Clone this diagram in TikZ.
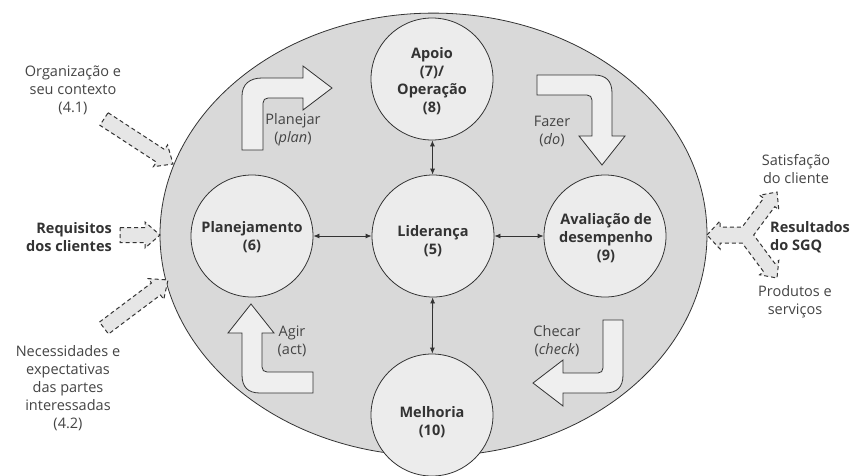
\documentclass[tikz,border=0pt]{standalone}
\usepackage{fontspec}
\setmainfont{Open Sans}
\usetikzlibrary{arrows.meta,shapes.geometric}
\definecolor{ellfill}{HTML}{D9D9D9}
\definecolor{circfill}{HTML}{ECECEC}
\definecolor{blkfill}{HTML}{EFEFEF}
\definecolor{dashfill}{HTML}{E6E6E6}
\definecolor{linec}{HTML}{333333}
\definecolor{txtc}{HTML}{444444}
\newcommand\dashblock[3]{%
  \begin{scope}[shift={(#1)}, rotate=#2]
    \draw[dashblk] (0,-7.5) -- ({#3-15},-7.5) -- ({#3-15},-13) -- (#3,0) -- ({#3-15},13) -- ({#3-15},7.5) -- (0,7.5) -- cycle;
  \end{scope}}
\begin{document}
\begin{tikzpicture}[x=1pt,y=-1pt,
  txt/.style={font=\fontsize{14.5}{18}\selectfont, text=txtc, align=center, inner sep=0pt},
  btxt/.style={font=\fontsize{14.5}{18}\selectfont\bfseries, text=linec, align=center, inner sep=0pt},
  stage/.style={circle, draw=linec, line width=0.8pt, fill=circfill, minimum size=122pt, inner sep=0pt},
  dbl/.style={{Latex[length=6pt,width=5pt]}-{Latex[length=6pt,width=5pt]}, line width=0.8pt, draw=linec},
  blk/.style={draw=linec, line width=0.8pt, fill=blkfill},
  dashblk/.style={draw=linec, dash pattern=on 4pt off 3pt, line width=1pt, fill=dashfill},
]
\useasboundingbox (0,0) rectangle (854,475);
\fill[white] (0,0) rectangle (854,475);

% big ellipse
\node[ellipse, draw=linec, line width=0.8pt, fill=ellfill, minimum width=547pt, minimum height=443pt, inner sep=0pt] (qms) at (433.5,234.6) {};

% dashed input arrows (left)
\dashblock{104,119}{-33.1}{82.4}
\dashblock{120,235}{0}{40}
\dashblock{104,328}{36.9}{80}

% dashed output arrow (right)
\draw[dashblk] (707,235) -- (720,221) -- (720,227) -- (742.2,227) -- (763.6,198.2) -- (759.6,195.2) -- (777,192) -- (778.8,209.6) -- (774.8,206.6) -- (753.7,235) -- (774.8,263.4) -- (778.8,260.4) -- (777,278) -- (759.6,274.8) -- (763.6,271.8) -- (742.2,243) -- (720,243) -- (720,249) -- cycle;

% PDCA block arrows
\draw[blk] (242,150) -- (242,96) .. controls (242,84) and (250,78) .. (262,78) -- (303,78) -- (303,66) -- (332,88) -- (303,110) -- (303,98) -- (268,98) .. controls (265,98) and (263,100) .. (263,103) -- (263,150) -- cycle;
\draw[blk] (537,75) -- (594,75) .. controls (606,75) and (612,81) .. (612,93) -- (612,136) -- (625,136) -- (602,165) -- (579,136) -- (592,136) -- (592,100) .. controls (592,97) and (590,95) .. (587,95) -- (537,95) -- cycle;
\draw[blk] (251,304) -- (274,333) -- (262,333) -- (262,367) .. controls (262,370) and (264,372) .. (267,372) -- (313,372) -- (313,393) -- (260,393) .. controls (248,393) and (242,387) .. (242,375) -- (242,333) -- (228,333) -- cycle;
\draw[blk] (603,320) -- (623,320) -- (623,375) .. controls (623,387) and (617,393) .. (605,393) -- (563,393) -- (563,406) -- (533,383) -- (563,360) -- (563,373) -- (598,373) .. controls (601,373) and (603,371) .. (603,368) -- cycle;

% stages
\node[stage] (apoio) at (432,79) {};
\node[stage] (plan) at (252,236) {};
\node[stage] (lid) at (433,236) {};
\node[stage] (aval) at (605,236) {};
\node[stage] (melh) at (432,415) {};

\draw[dbl] (lid) -- (apoio);
\draw[dbl] (lid) -- (plan);
\draw[dbl] (lid) -- (aval);
\draw[dbl] (lid) -- (melh);

\node[btxt] (tapoio) at (432,81) {Apoio\\(7)/\\Operação\\(8)};
\node[btxt] (tplan) at (252,237.5) {Planejamento\\(6)};
\node[btxt] (tlid) at (433,241.5) {Liderança\\(5)};
\node[btxt] (taval) at (606,238.5) {Avaliação de\\desempenho\\(9)};
\node[btxt] (tmelh) at (432,422.5) {Melhoria\\(10)};

% cycle labels
\node[txt] (lplanejar) at (293,130) {Planejar\\(\textit{plan})};
\node[txt] (lfazer) at (552,131) {Fazer\\(\textit{do})};
\node[txt] (lagir) at (292,341) {Agir\\(act)};
\node[txt] (lchecar) at (557,341) {Checar\\(\textit{check})};

% outside labels
\node[txt] (org) at (73,90) {Organização e\\seu contexto\\(4.1)};
\node[btxt, anchor=east, align=right] (req) at (112,237.5) {Requisitos\\dos clientes};
\node[txt] (nec) at (68,388) {Necessidades e\\expectativas\\das partes\\interessadas\\(4.2)};
\node[txt] (sat) at (796,169) {Satisfação\\do cliente};
\node[btxt, anchor=west, align=left] (res) at (770,237.5) {Resultados\\do SGQ};
\node[txt] (prod) at (795,302) {Produtos e\\serviços};
\end{tikzpicture}
\end{document}
